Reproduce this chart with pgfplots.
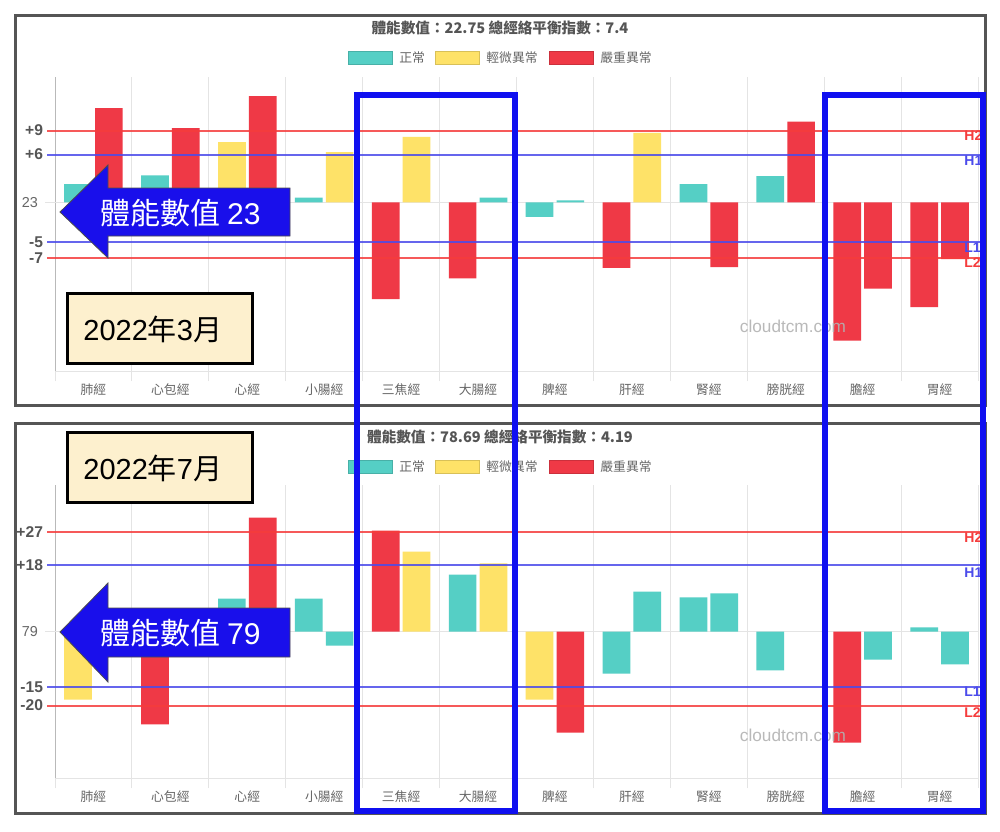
\documentclass[border=0pt]{standalone}
\usepackage{fontspec}
\setmainfont{Noto Sans CJK TC}
\newfontfamily\lat{Liberation Sans}
\usepackage{pgfplots}
\pgfplotsset{compat=1.18}
\definecolor{cteal}{RGB}{85,207,197}
\definecolor{cyel}{RGB}{254,226,104}
\definecolor{cred}{RGB}{239,57,70}
\definecolor{hred}{RGB}{245,60,60}
\definecolor{hblue}{RGB}{75,75,235}
\definecolor{rblue}{RGB}{15,15,240}
\definecolor{abblue}{RGB}{25,15,235}
\definecolor{beige}{RGB}{253,240,206}
\definecolor{txt}{RGB}{102,102,102}
\definecolor{ttl}{RGB}{85,85,85}
\definecolor{gridc}{RGB}{228,228,228}
\definecolor{frame}{RGB}{85,85,85}

\pgfplotsset{
  panel/.style={
    scale only axis, width=461.5pt,
    xmin=-0.5, xmax=11.5,
    ybar, bar width=13.85pt,
    clip=false,
    axis lines*=left,
    x axis line style={draw=gridc, line width=0.5pt},
    y axis line style={draw=gray!55, line width=0.5pt},
    xtick={0,...,11},
    xticklabels={肺經,心包經,心經,小腸經,三焦經,大腸經,脾經,肝經,腎經,膀胱經,膽經,胃經},
    xticklabel style={font=\fontsize{6.4}{7}\selectfont, text=txt, yshift=-3pt},
    minor xtick={-0.5,0.5,...,11.5},
    xminorgrids=true,
    minor x grid style={draw=gridc, line width=0.5pt},
    minor tick length=5pt,
    major tick length=0pt,
    tick align=outside,
    minor x tick style={draw=gridc, line width=0.5pt},
    ytick style={draw=none},
    yticklabel style={font=\lat\bfseries\fontsize{7.8}{9}\selectfont, text=ttl, xshift=-2.5pt},
    every axis plot/.append style={draw=none},
  },
}

\begin{document}
\begin{tikzpicture}
\begin{scope}[x=0.5pt,y=-0.5pt]
\path[use as bounding box] (0,0) rectangle (1000,831);
\fill[white] (0,0) rectangle (1000,831);
\draw[frame, line width=1.5pt] (15,15) rectangle (985,405);
\draw[frame, line width=1.5pt] (15,423) rectangle (985,813);
\end{scope}

% ---------------- top panel ----------------
\begin{axis}[panel, at={(27.5pt,-185.5pt)}, anchor=south west, height=147pt,
  ymin=-21.1, ymax=15.7,
  ytick={-7,-5,6,9}, yticklabels={-7,-5,+6,+9}]
\draw[gridc, line width=0.5pt] (axis cs:-0.63,0) -- (axis cs:11.5,0);
\node[anchor=east, font=\lat\fontsize{7.2}{8}\selectfont, text=txt] at (axis cs:-0.63,0) {23};
% left bars
\addplot[fill=cteal, bar shift=-7.7pt] coordinates {(0,2.3) (1,3.4) (3,0.6) (6,-1.8) (8,2.3) (9,3.3)};
\addplot[fill=cyel, bar shift=-7.7pt] coordinates {(2,7.6)};
\addplot[fill=cred, bar shift=-7.7pt] coordinates {(4,-12.1) (5,-9.5) (7,-8.2) (10,-17.3) (11,-13.1)};
% right bars
\addplot[fill=cteal, bar shift=7.7pt] coordinates {(5,0.6) (6,0.25)};
\addplot[fill=cyel, bar shift=7.7pt] coordinates {(3,6.3) (4,8.2) (7,8.7)};
\addplot[fill=cred, bar shift=7.7pt] coordinates {(0,11.8) (1,9.3) (2,13.3) (8,-8.1) (9,10.1) (10,-10.8) (11,-7.1)};
% reference lines
\draw[hred, line width=1pt, opacity=0.85] (axis cs:-0.6,9) -- (axis cs:11.6,9);
\draw[hblue, line width=1pt, opacity=0.85] (axis cs:-0.6,6) -- (axis cs:11.6,6);
\draw[hblue, line width=1pt, opacity=0.85] (axis cs:-0.6,-5) -- (axis cs:11.6,-5);
\draw[hred, line width=1pt, opacity=0.85] (axis cs:-0.6,-7) -- (axis cs:11.6,-7);
\end{axis}

% ---------------- bottom panel ----------------
\begin{axis}[panel, at={(27.5pt,-389pt)}, anchor=south west, height=146.5pt,
  ymin=-39.6, ymax=39.6,
  ytick={-20,-15,18,27}, yticklabels={-20,-15,+18,+27}]
\draw[gridc, line width=0.5pt] (axis cs:-0.63,0) -- (axis cs:11.5,0);
\node[anchor=east, font=\lat\fontsize{7.2}{8}\selectfont, text=txt] at (axis cs:-0.63,0) {79};
% left bars
\addplot[fill=cteal, bar shift=-7.7pt] coordinates {(2,8.9) (3,8.9) (5,15.4) (7,-11.4) (8,9.2) (9,-10.5) (11,1.1)};
\addplot[fill=cyel, bar shift=-7.7pt] coordinates {(0,-18.4) (6,-18.4)};
\addplot[fill=cred, bar shift=-7.7pt] coordinates {(1,-25.1) (4,27.3) (10,-30.0)};
% right bars
\addplot[fill=cteal, bar shift=7.7pt] coordinates {(0,3.0) (1,4.0) (3,-3.8) (7,10.8) (8,10.3) (10,-7.6) (11,-8.9)};
\addplot[fill=cyel, bar shift=7.7pt] coordinates {(4,21.6) (5,18.4)};
\addplot[fill=cred, bar shift=7.7pt] coordinates {(2,30.8) (6,-27.3)};
% reference lines
\draw[hred, line width=1pt, opacity=0.85] (axis cs:-0.6,27) -- (axis cs:11.6,27);
\draw[hblue, line width=1pt, opacity=0.85] (axis cs:-0.6,18) -- (axis cs:11.6,18);
\draw[hblue, line width=1pt, opacity=0.85] (axis cs:-0.6,-15) -- (axis cs:11.6,-15);
\draw[hred, line width=1pt, opacity=0.85] (axis cs:-0.6,-20) -- (axis cs:11.6,-20);
\end{axis}

% ---------------- overlays ----------------
\begin{scope}[x=0.5pt,y=-0.5pt]
% titles
\node[font=\bfseries\fontsize{7.3}{8}\selectfont, text=ttl] at (500,28) {體能數值：22.75 總經絡平衡指數：7.4};
\node[font=\bfseries\fontsize{7.3}{8}\selectfont, text=ttl] at (500,437) {體能數值：78.69 總經絡平衡指數：4.19};
% legends
\foreach \yy in {58,467}{
  \fill[cteal, draw=cteal!85!black, line width=0.4pt] (348,\yy-6.5) rectangle (392,\yy+6.5);
  \node[anchor=west, font=\fontsize{6.4}{7}\selectfont, text=txt, inner sep=0] at (399,\yy) {正常};
  \fill[cyel, draw=cyel!85!black, line width=0.4pt] (435,\yy-6.5) rectangle (479,\yy+6.5);
  \node[anchor=west, font=\fontsize{6.4}{7}\selectfont, text=txt, inner sep=0] at (486,\yy) {輕微異常};
  \fill[cred, draw=cred!85!black, line width=0.4pt] (549,\yy-6.5) rectangle (593,\yy+6.5);
  \node[anchor=west, font=\fontsize{6.4}{7}\selectfont, text=txt, inner sep=0] at (600,\yy) {嚴重異常};
}
% reference line labels
\foreach \lab/\yy/\cc in {H2/136/hred,H1/161/hblue,L1/248/hblue,L2/263/hred,H2/538/hred,H1/573/hblue,L1/692/hblue,L2/713/hred}{
  \node[anchor=west, inner sep=0, font=\lat\bfseries\fontsize{7}{8}\selectfont, text=\cc] at (964,\yy) {\lab};
}
% watermarks
\node[font=\lat\fontsize{8.6}{9}\selectfont, text=gray!60, opacity=0.9] at (793,326) {cloudtcm.com};
\node[font=\lat\fontsize{8.6}{9}\selectfont, text=gray!60, opacity=0.9] at (793,735) {cloudtcm.com};
% arrows
\filldraw[fill=abblue, draw=black!70, line width=0.4pt] (60,212) -- (108,165) -- (108,188) -- (290,188) -- (290,236) -- (108,236) -- (108,258) -- cycle;
\node[anchor=west, inner sep=0, text=white, font=\fontsize{15}{16}\selectfont] at (100,213) {體能數值 {\lat 23}};
\filldraw[fill=abblue, draw=black!70, line width=0.4pt] (60,632) -- (108,583) -- (108,608) -- (290,608) -- (290,657) -- (108,657) -- (108,682) -- cycle;
\node[anchor=west, inner sep=0, text=white, font=\fontsize{15}{16}\selectfont] at (100,633) {體能數值 {\lat 79}};
% date boxes
\filldraw[fill=beige, draw=black, line width=1.5pt] (67,293) rectangle (252,363);
\node[anchor=west, inner sep=0, font=\lat\fontsize{14.5}{16}\selectfont] at (83,329) {2022{\fontspec{Noto Sans CJK TC}年}3{\fontspec{Noto Sans CJK TC}月}};
\filldraw[fill=beige, draw=black, line width=1.5pt] (67,432) rectangle (252,502);
\node[anchor=west, inner sep=0, font=\lat\fontsize{14.5}{16}\selectfont] at (83,468) {2022{\fontspec{Noto Sans CJK TC}年}7{\fontspec{Noto Sans CJK TC}月}};
% blue highlight rectangles
\draw[rblue, line width=3pt] (357,94.5) rectangle (514.5,810.5);
\draw[rblue, line width=3pt] (824.5,94.5) rectangle (982.5,810.5);
\end{scope}
\end{tikzpicture}
\end{document}
